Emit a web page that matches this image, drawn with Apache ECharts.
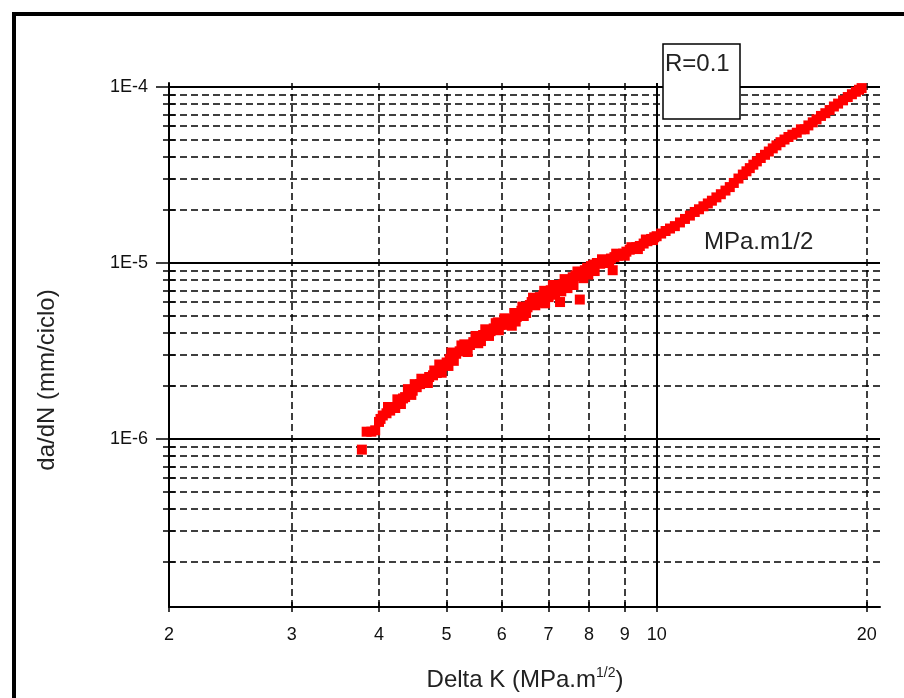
<!DOCTYPE html>
<html>
<head>
<meta charset="utf-8">
<script src="https://cdn.jsdelivr.net/npm/echarts@6/dist/echarts.min.js"></script>
<style>
html,body{margin:0;padding:0;background:#fff;}
#chart{width:904px;height:698px;}
</style>
</head>
<body>
<div id="chart"></div>
<script>
// Tick positions
const xTickValues = [2, 3, 4, 5, 6, 7, 8, 9, 10, 20];
const xMajorValues = [10];
const yMajorValues = [1e-6, 1e-5, 1e-4];
const yMinorValues = [2e-7, 3e-7, 4e-7, 5e-7, 6e-7, 7e-7, 8e-7, 9e-7,
                      2e-6, 3e-6, 4e-6, 5e-6, 6e-6, 7e-6, 8e-6, 9e-6,
                      2e-5, 3e-5, 4e-5, 5e-5, 6e-5, 7e-5, 8e-5, 9e-5];

// Measured data: [Delta K (MPa.m^1/2), da/dN (mm/ciclo)]
const lowRange = [
  [3.78, 8.7e-7], [3.84, 1.10e-6], [3.90, 1.10e-6], [3.95, 1.12e-6],
  [4.00, 1.25e-6], [4.02, 1.30e-6], [4.05, 1.36e-6], [4.10, 1.40e-6],
  [4.12, 1.52e-6], [4.15, 1.45e-6], [4.19, 1.52e-6], [4.22, 1.50e-6],
  [4.25, 1.68e-6], [4.28, 1.62e-6], [4.30, 1.58e-6], [4.33, 1.70e-6],
  [4.36, 1.73e-6], [4.40, 1.92e-6], [4.42, 1.82e-6], [4.45, 1.78e-6],
  [4.47, 1.88e-6], [4.50, 2.05e-6], [4.53, 1.97e-6], [4.58, 2.05e-6],
  [4.60, 2.20e-6], [4.63, 2.12e-6], [4.68, 2.18e-6], [4.70, 2.08e-6],
  [4.72, 2.25e-6], [4.78, 2.30e-6], [4.80, 2.45e-6], [4.84, 2.37e-6],
  [4.88, 2.65e-6], [4.90, 2.50e-6], [4.92, 2.38e-6], [4.95, 2.62e-6],
  [5.00, 2.72e-6], [5.03, 2.60e-6], [5.05, 2.85e-6], [5.08, 3.10e-6],
  [5.10, 2.92e-6], [5.12, 2.78e-6], [5.16, 3.05e-6], [5.22, 3.15e-6],
  [5.25, 3.40e-6], [5.28, 3.25e-6], [5.30, 3.45e-6], [5.34, 3.30e-6],
  [5.36, 3.12e-6], [5.40, 3.42e-6], [5.46, 3.55e-6], [5.50, 3.85e-6],
  [5.52, 3.68e-6], [5.55, 3.50e-6], [5.58, 3.75e-6], [5.60, 3.60e-6],
  [5.64, 3.90e-6], [5.68, 4.20e-6], [5.71, 4.00e-6], [5.75, 3.85e-6],
  [5.78, 4.10e-6], [5.84, 4.25e-6], [5.88, 4.55e-6], [5.90, 4.30e-6],
  [5.92, 4.60e-6], [5.94, 4.15e-6], [5.96, 4.44e-6]
];
const midRange = [
  [6.02, 4.55e-6], [6.05, 4.85e-6], [6.08, 4.60e-6], [6.12, 4.45e-6],
  [6.15, 4.75e-6], [6.20, 4.40e-6], [6.22, 4.80e-6], [6.25, 5.20e-6],
  [6.28, 4.65e-6], [6.30, 4.93e-6], [6.35, 5.20e-6], [6.40, 5.35e-6],
  [6.42, 5.65e-6], [6.45, 5.00e-6], [6.47, 5.50e-6], [6.50, 5.20e-6],
  [6.53, 5.60e-6], [6.58, 5.77e-6], [6.62, 6.00e-6], [6.65, 6.35e-6],
  [6.68, 6.10e-6], [6.70, 5.75e-6], [6.74, 6.30e-6], [6.80, 6.40e-6],
  [6.85, 6.00e-6], [6.88, 6.55e-6], [6.90, 6.95e-6], [6.92, 5.90e-6],
  [6.96, 6.76e-6], [7.00, 6.40e-6], [7.05, 7.00e-6], [7.10, 7.50e-6],
  [7.12, 7.20e-6], [7.15, 6.60e-6], [7.20, 7.40e-6], [7.22, 6.95e-6],
  [7.27, 7.50e-6], [7.27, 6.00e-6], [7.30, 6.90e-6], [7.35, 7.60e-6],
  [7.38, 8.10e-6], [7.42, 7.80e-6], [7.45, 7.20e-6], [7.51, 8.00e-6],
  [7.55, 7.70e-6], [7.58, 8.30e-6], [7.60, 7.50e-6], [7.65, 8.50e-6],
  [7.70, 8.95e-6], [7.72, 8.70e-6], [7.76, 6.20e-6], [7.80, 8.90e-6],
  [7.85, 8.20e-6], [7.89, 9.10e-6], [7.92, 8.80e-6], [7.95, 9.40e-6],
  [7.98, 8.60e-6], [8.05, 9.60e-6], [8.08, 9.30e-6], [8.12, 9.80e-6],
  [8.15, 9.00e-6], [8.21, 1.00e-5], [8.30, 9.90e-6], [8.35, 1.05e-5],
  [8.40, 1.02e-5], [8.50, 1.04e-5], [8.55, 1.00e-5], [8.60, 1.06e-5],
  [8.65, 9.10e-6], [8.70, 1.08e-5], [8.75, 1.13e-5], [8.80, 1.10e-5],
  [8.86, 1.11e-5], [8.95, 1.13e-5], [9.00, 1.10e-5], [9.05, 1.16e-5],
  [9.15, 1.19e-5], [9.20, 1.23e-5], [9.25, 1.21e-5], [9.35, 1.23e-5],
  [9.40, 1.20e-5], [9.46, 1.25e-5], [9.58, 1.29e-5], [9.65, 1.36e-5],
  [9.70, 1.33e-5], [9.82, 1.37e-5], [9.88, 1.35e-5], [9.92, 1.40e-5]
];
const highRange = [
  [10.0, 1.42e-5], [10.15, 1.47e-5], [10.30, 1.52e-5], [10.45, 1.57e-5],
  [10.62, 1.62e-5], [10.8, 1.70e-5], [10.98, 1.78e-5], [11.16, 1.86e-5],
  [11.34, 1.95e-5], [11.5, 2.02e-5], [11.67, 2.10e-5], [11.84, 2.18e-5],
  [12.0, 2.26e-5], [12.18, 2.36e-5], [12.36, 2.46e-5], [12.55, 2.58e-5],
  [12.73, 2.70e-5], [12.9, 2.85e-5], [13.1, 3.02e-5], [13.29, 3.18e-5],
  [13.45, 3.32e-5], [13.6, 3.46e-5], [13.76, 3.62e-5], [13.92, 3.78e-5],
  [14.1, 3.95e-5], [14.3, 4.12e-5], [14.48, 4.30e-5], [14.67, 4.48e-5],
  [14.85, 4.66e-5], [15.05, 4.86e-5], [15.25, 5.03e-5], [15.45, 5.20e-5],
  [15.65, 5.36e-5], [15.88, 5.50e-5], [16.1, 5.75e-5], [16.3, 5.75e-5],
  [16.5, 6.05e-5], [16.74, 6.30e-5], [16.95, 6.55e-5], [17.2, 6.85e-5],
  [17.45, 7.10e-5], [17.7, 7.40e-5], [17.95, 7.75e-5], [18.2, 8.05e-5],
  [18.5, 8.40e-5], [18.79, 8.77e-5], [19.05, 9.10e-5], [19.3, 9.40e-5],
  [19.5, 9.65e-5], [19.67, 9.86e-5]
];

const FONT = "'Liberation Sans', Arial, sans-serif";
const xMin = 2, xMax = 20.9, yMin = 1.11e-7, yMax = 1.054e-4;
const dash = [7, 4];

const chart = echarts.init(document.getElementById('chart'), null, {renderer: 'canvas'});

function xAxisBase(extra) {
  return Object.assign({
    type: 'log', logBase: 10, min: xMin, max: xMax, gridIndex: 0, position: 'bottom',
    axisLine: {show: false}, axisLabel: {show: false}, axisTick: {show: false},
    splitLine: {show: false}, minorTick: {show: false}, minorSplitLine: {show: false}
  }, extra);
}
function yAxisBase(extra) {
  return Object.assign({
    type: 'log', logBase: 10, min: yMin, max: yMax, gridIndex: 0, position: 'left',
    axisLine: {show: false}, axisLabel: {show: false}, axisTick: {show: false},
    splitLine: {show: false}, minorTick: {show: false}, minorSplitLine: {show: false}
  }, extra);
}

const allY = yMinorValues.concat(yMajorValues);
const markerStyle = {symbol: 'rect', symbolSize: 10, itemStyle: {color: '#ff0000', opacity: 1}, z: 5};

const option = {
  backgroundColor: '#fff',
  animation: false,
  grid: {left: 169, top: 83, right: 24, bottom: 91, containLabel: false},
  xAxis: [
    xAxisBase({
      axisLine: {show: true, onZero: false, lineStyle: {color: '#000', width: 2}},
      axisTick: {show: true, inside: false, length: 5, customValues: xTickValues,
                 lineStyle: {color: '#000', width: 1.5}},
      axisLabel: {show: true, customValues: xTickValues, margin: 19, color: '#111',
                  fontFamily: FONT, fontSize: 18, formatter: v => String(v)},
      splitLine: {show: true, lineStyle: {color: '#000', width: 1.5, type: dash}}
    }),
    xAxisBase({
      axisTick: {show: true, inside: true, length: 5, customValues: xTickValues,
                 lineStyle: {color: '#000', width: 1.5}}
    }),
    xAxisBase({
      axisTick: {show: true, length: 0, customValues: xMajorValues, lineStyle: {width: 0}},
      splitLine: {show: true, lineStyle: {color: '#000', width: 2, type: 'solid'}}
    })
  ],
  yAxis: [
    yAxisBase({
      axisLine: {show: true, onZero: false, lineStyle: {color: '#000', width: 2}},
      axisTick: {show: true, inside: false, length: 13, customValues: yMajorValues,
                 lineStyle: {color: '#000', width: 1.5}},
      axisLabel: {show: true, customValues: yMajorValues, margin: 21, color: '#111',
                  fontFamily: FONT, fontSize: 18,
                  formatter: v => '1E' + Math.round(Math.log10(v))},
      splitLine: {show: true, lineStyle: {color: '#000', width: 2, type: 'solid'}}
    }),
    yAxisBase({
      axisTick: {show: true, inside: true, length: 6, customValues: allY,
                 lineStyle: {color: '#000', width: 1.5}},
      splitLine: {show: true, lineStyle: {color: '#000', width: 1.5, type: dash}}
    }),
    yAxisBase({
      axisTick: {show: true, inside: false, length: 6, customValues: yMinorValues,
                 lineStyle: {color: '#000', width: 1.5}}
    })
  ],
  series: [
    Object.assign({type: 'scatter', name: 'low', xAxisIndex: 0, yAxisIndex: 0, data: lowRange}, markerStyle),
    Object.assign({type: 'scatter', name: 'mid', xAxisIndex: 0, yAxisIndex: 0, data: midRange}, markerStyle),
    Object.assign({type: 'scatter', name: 'high', xAxisIndex: 0, yAxisIndex: 0, data: highRange}, markerStyle)
  ],
  graphic: [
    {type: 'rect', z: 0, silent: true,
     shape: {x: 14, y: 14, width: 1000, height: 1000},
     style: {fill: 'none', stroke: '#000', lineWidth: 4}},
    {type: 'rect', z: 100, silent: true,
     shape: {x: 663, y: 44, width: 77, height: 75},
     style: {fill: '#fff', stroke: '#000', lineWidth: 1.5}},
    {type: 'text', z: 101, silent: true, x: 665, y: 64,
     style: {text: 'R=0.1', font: "24px " + FONT, fill: '#222',
             textAlign: 'left', textVerticalAlign: 'middle'}},
    {type: 'text', z: 101, silent: true, x: 704, y: 242,
     style: {text: 'MPa.m1/2', font: "24px " + FONT, fill: '#222',
             textAlign: 'left', textVerticalAlign: 'middle'}},
    {type: 'text', z: 101, silent: true, x: 47, y: 380, rotation: Math.PI / 2,
     style: {text: 'da/dN (mm/ciclo)', font: "24px " + FONT, fill: '#222',
             textAlign: 'center', textVerticalAlign: 'middle'}},
    {type: 'text', z: 101, silent: true, x: 525, y: 680,
     style: {text: 'Delta K (MPa.m{sup|1/2})', fill: '#222',
             fontFamily: FONT, fontSize: 24, lineHeight: 28,
             textAlign: 'center', textVerticalAlign: 'middle',
             rich: {sup: {fontFamily: FONT, fontSize: 14, lineHeight: 28, verticalAlign: 'top', fill: '#222'}}}}
  ]
};
chart.setOption(option);
</script>
</body>
</html>
